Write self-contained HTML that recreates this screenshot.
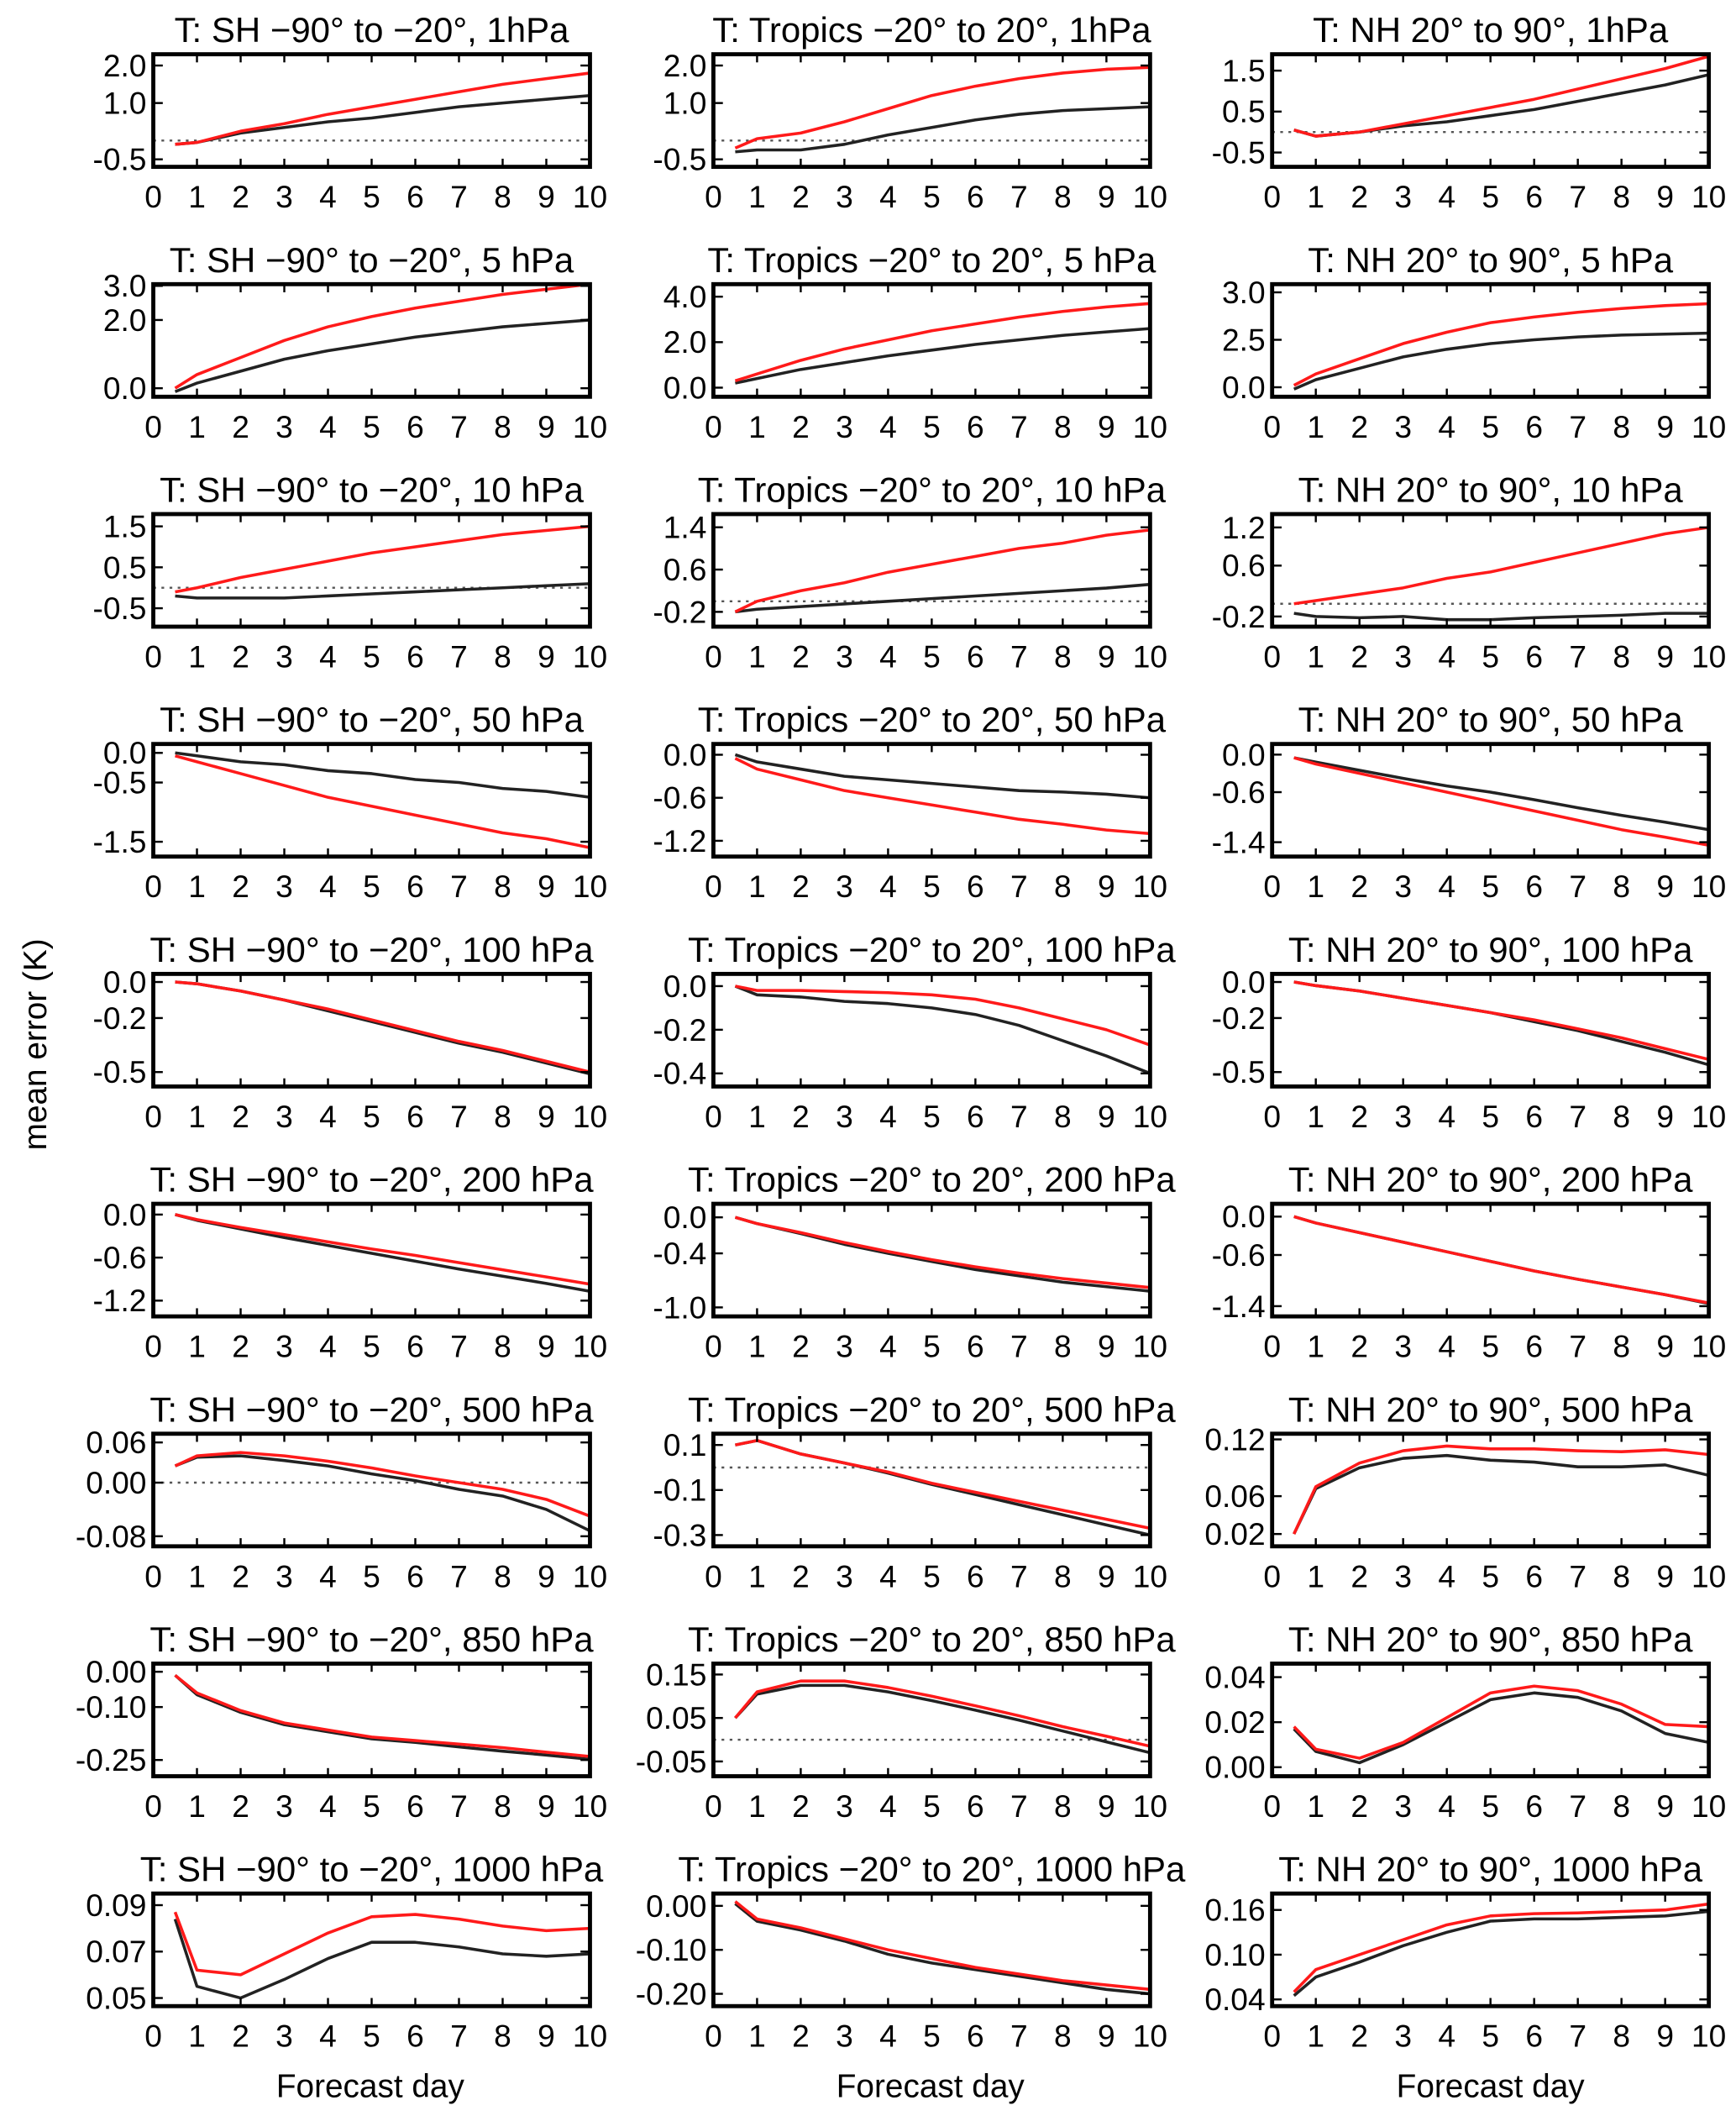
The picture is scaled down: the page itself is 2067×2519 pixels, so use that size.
<!DOCTYPE html>
<html><head><meta charset="utf-8">
<style>
html,body{margin:0;padding:0;background:#fff;}
svg{display:block;font-family:"Liberation Sans",sans-serif;}
</style></head>
<body>
<svg id="chart" width="2067" height="2519" viewBox="0 0 1280 1560" xmlns="http://www.w3.org/2000/svg">
<rect x="0" y="0" width="1280" height="1560" fill="#fff"/>
<text x="0" y="0" transform="translate(34,770) rotate(-90)" text-anchor="middle" font-size="24" fill="#000">mean error (K)</text>
<text x="273" y="1546" text-anchor="middle" font-size="24" fill="#000">Forecast day</text>
<text x="686" y="1546" text-anchor="middle" font-size="24" fill="#000">Forecast day</text>
<text x="1099" y="1546" text-anchor="middle" font-size="24" fill="#000">Forecast day</text>
</svg>
<script>
const days = [0.5,1,2,3,4,5,6,7,8,9,10];
const xTicks = [0,1,2,3,4,5,6,7,8,9,10];
const regions = ["T: SH \u221290\u00b0 to \u221220\u00b0, ", "T: Tropics \u221220\u00b0 to 20\u00b0, ", "T: NH 20\u00b0 to 90\u00b0, "];
const levels = ["1hPa","5 hPa","10 hPa","50 hPa","100 hPa","200 hPa","500 hPa","850 hPa","1000 hPa"];
const yMin = [-0.7,-0.7,-0.85, -0.25,-0.4,-0.5, -0.95,-0.48,-0.36, -1.75,-1.42,-1.63, -0.58,-0.46,-0.58, -1.42,-1.1,-1.56, -0.095,-0.35,0.007, -0.296,-0.084,-0.004, 0.0465,-0.228,0.031];
const yMax = [2.3,2.3,1.9, 3.05,4.55,5.43, 1.8,1.65,1.41, 0.15,0.15,0.17, 0.045,0.056,0.045, 0.15,0.15,0.2, 0.073,0.15,0.126, 0.023,0.175,0.046, 0.095,0.028,0.182];
const tickVals = [[2,1,-0.5],[2,1,-0.5],[1.5,0.5,-0.5],[3,2,0],[4,2,0],[5,2.5,0],[1.5,0.5,-0.5],[1.4,0.6,-0.2],[1.2,0.6,-0.2],[0,-0.5,-1.5],[0,-0.6,-1.2],[0,-0.6,-1.4],[0,-0.2,-0.5],[0,-0.2,-0.4],[0,-0.2,-0.5],[0,-0.6,-1.2],[0,-0.4,-1.0],[0,-0.6,-1.4],[0.06,0,-0.08],[0.1,-0.1,-0.3],[0.12,0.06,0.02],[0,-0.1,-0.25],[0.15,0.05,-0.05],[0.04,0.02,0],[0.09,0.07,0.05],[0,-0.1,-0.2],[0.16,0.1,0.04]];
const tickLabels = [["2.0","1.0","-0.5"],["2.0","1.0","-0.5"],["1.5","0.5","-0.5"],["3.0","2.0","0.0"],["4.0","2.0","0.0"],["3.0","2.5","0.0"],["1.5","0.5","-0.5"],["1.4","0.6","-0.2"],["1.2","0.6","-0.2"],["0.0","-0.5","-1.5"],["0.0","-0.6","-1.2"],["0.0","-0.6","-1.4"],["0.0","-0.2","-0.5"],["0.0","-0.2","-0.4"],["0.0","-0.2","-0.5"],["0.0","-0.6","-1.2"],["0.0","-0.4","-1.0"],["0.0","-0.6","-1.4"],["0.06","0.00","-0.08"],["0.1","-0.1","-0.3"],["0.12","0.06","0.02"],["0.00","-0.10","-0.25"],["0.15","0.05","-0.05"],["0.04","0.02","0.00"],["0.09","0.07","0.05"],["0.00","-0.10","-0.20"],["0.16","0.10","0.04"]];
const zeroLine = [1,1,1, 0,0,0, 1,1,1, 0,0,0, 0,0,0, 0,0,0, 1,1,0, 0,1,0, 0,0,0];
const redSeries = [
[-0.1,-0.05,0.25,0.45,0.7,0.9,1.1,1.3,1.5,1.65,1.8],
[-0.2,0.05,0.2,0.5,0.85,1.2,1.45,1.65,1.8,1.9,1.95],
[0.05,-0.1,0.0,0.2,0.4,0.6,0.8,1.05,1.3,1.55,1.85],
[0.0,0.4,0.9,1.4,1.8,2.1,2.35,2.55,2.75,2.9,3.05],
[0.3,0.6,1.2,1.7,2.1,2.5,2.8,3.1,3.35,3.55,3.7],
[0.1,0.7,1.5,2.3,2.9,3.4,3.7,3.95,4.15,4.3,4.4],
[-0.1,0.0,0.25,0.45,0.65,0.85,1.0,1.15,1.3,1.4,1.5],
[-0.2,0.0,0.2,0.35,0.55,0.7,0.85,1.0,1.1,1.25,1.35],
[0.0,0.05,0.15,0.25,0.4,0.5,0.65,0.8,0.95,1.1,1.2],
[-0.05,-0.15,-0.35,-0.55,-0.75,-0.9,-1.05,-1.2,-1.35,-1.45,-1.6],
[-0.05,-0.2,-0.35,-0.5,-0.6,-0.7,-0.8,-0.9,-0.97,-1.05,-1.1],
[-0.05,-0.15,-0.3,-0.45,-0.6,-0.75,-0.9,-1.05,-1.2,-1.32,-1.45],
[0,-0.01,-0.05,-0.1,-0.15,-0.21,-0.27,-0.33,-0.38,-0.44,-0.5],
[0.0,-0.02,-0.02,-0.025,-0.03,-0.04,-0.06,-0.1,-0.15,-0.2,-0.27],
[0,-0.02,-0.05,-0.09,-0.13,-0.17,-0.21,-0.26,-0.31,-0.37,-0.43],
[0,-0.07,-0.18,-0.28,-0.38,-0.48,-0.57,-0.67,-0.77,-0.87,-0.97],
[0,-0.07,-0.17,-0.28,-0.38,-0.47,-0.55,-0.62,-0.68,-0.73,-0.78],
[0,-0.1,-0.25,-0.4,-0.55,-0.7,-0.85,-0.98,-1.1,-1.22,-1.35],
[0.025,0.04,0.045,0.04,0.032,0.022,0.01,0.0,-0.01,-0.025,-0.05],
[0.1,0.12,0.06,0.02,-0.02,-0.07,-0.11,-0.15,-0.19,-0.23,-0.27],
[0.02,0.07,0.095,0.108,0.113,0.11,0.11,0.108,0.107,0.109,0.104],
[-0.01,-0.06,-0.11,-0.145,-0.165,-0.185,-0.195,-0.205,-0.215,-0.228,-0.24],
[0.05,0.11,0.135,0.135,0.12,0.1,0.078,0.055,0.03,0.008,-0.015],
[0.018,0.008,0.004,0.011,0.022,0.033,0.036,0.034,0.028,0.019,0.018],
[0.087,0.062,0.06,0.069,0.078,0.085,0.086,0.084,0.081,0.079,0.08],
[0.01,-0.03,-0.05,-0.075,-0.1,-0.12,-0.14,-0.155,-0.17,-0.18,-0.19],
[0.05,0.08,0.1,0.12,0.14,0.152,0.155,0.156,0.158,0.16,0.168]];
const blackSeries = [
[-0.1,-0.05,0.2,0.35,0.5,0.6,0.75,0.9,1.0,1.1,1.2],
[-0.3,-0.25,-0.25,-0.1,0.15,0.35,0.55,0.7,0.8,0.85,0.9],
[0.05,-0.1,0.0,0.15,0.25,0.4,0.55,0.75,0.95,1.15,1.4],
[-0.1,0.15,0.5,0.85,1.1,1.3,1.5,1.65,1.8,1.9,2.0],
[0.2,0.4,0.8,1.1,1.4,1.65,1.9,2.1,2.3,2.45,2.6],
[-0.1,0.4,1.0,1.6,2.0,2.3,2.5,2.65,2.75,2.8,2.85],
[-0.2,-0.25,-0.25,-0.25,-0.2,-0.15,-0.1,-0.05,0.0,0.05,0.1],
[-0.2,-0.15,-0.1,-0.05,0.0,0.05,0.1,0.15,0.2,0.25,0.32],
[-0.15,-0.2,-0.22,-0.2,-0.25,-0.25,-0.22,-0.2,-0.18,-0.15,-0.15],
[0.0,-0.05,-0.15,-0.2,-0.3,-0.35,-0.45,-0.5,-0.6,-0.65,-0.75],
[0,-0.1,-0.2,-0.3,-0.35,-0.4,-0.45,-0.5,-0.52,-0.55,-0.6],
[-0.05,-0.12,-0.25,-0.38,-0.5,-0.6,-0.72,-0.85,-0.97,-1.08,-1.2],
[0,-0.01,-0.05,-0.1,-0.16,-0.22,-0.28,-0.34,-0.39,-0.45,-0.51],
[0.0,-0.04,-0.05,-0.07,-0.08,-0.1,-0.13,-0.18,-0.25,-0.32,-0.4],
[0,-0.02,-0.05,-0.09,-0.13,-0.17,-0.22,-0.27,-0.33,-0.39,-0.46],
[0,-0.08,-0.2,-0.32,-0.43,-0.54,-0.65,-0.76,-0.86,-0.96,-1.07],
[0,-0.07,-0.18,-0.3,-0.4,-0.49,-0.58,-0.65,-0.72,-0.77,-0.82],
[0,-0.1,-0.25,-0.4,-0.55,-0.7,-0.85,-0.98,-1.1,-1.22,-1.36],
[0.025,0.038,0.04,0.033,0.025,0.013,0.003,-0.01,-0.02,-0.04,-0.072],
[0.1,0.12,0.06,0.02,-0.025,-0.075,-0.12,-0.165,-0.21,-0.255,-0.3],
[0.02,0.068,0.09,0.1,0.103,0.098,0.096,0.091,0.091,0.093,0.082],
[-0.01,-0.065,-0.115,-0.15,-0.17,-0.19,-0.2,-0.213,-0.225,-0.236,-0.248],
[0.05,0.105,0.125,0.125,0.11,0.09,0.068,0.045,0.02,-0.005,-0.03],
[0.017,0.007,0.002,0.01,0.02,0.03,0.033,0.031,0.025,0.015,0.011],
[0.084,0.055,0.05,0.058,0.067,0.074,0.074,0.072,0.069,0.068,0.069],
[0.005,-0.035,-0.055,-0.08,-0.11,-0.13,-0.145,-0.16,-0.175,-0.19,-0.2],
[0.045,0.07,0.09,0.112,0.13,0.145,0.148,0.148,0.15,0.152,0.158]];

const NS = "http://www.w3.org/2000/svg";
const svg = document.getElementById("chart");
const colX = [113,526,938], W = 322, H = 83;
function mk(tag, attrs, parent){ const e=document.createElementNS(NS,tag); for(const k in attrs) e.setAttribute(k,attrs[k]); parent.appendChild(e); return e; }

for(let r=0;r<9;r++){
  for(let c=0;c<3;c++){
    const i=r*3+c;
    const x0=colX[c], y0=40+r*169.5;
    const g=mk("g",{},svg);
    
    
    const xs=v=>x0+v/10*W;
    const ys=v=>y0+H-(v-yMin[i])/(yMax[i]-yMin[i])*H;
    const t=mk("text",{x:x0+W/2,y:y0-9,"text-anchor":"middle","font-size":"26",fill:"#000"},g);
    t.textContent=regions[c]+levels[r];
    
    
    if(zeroLine[i]){
      const z=mk("line",{x1:x0,x2:x0+W,y1:ys(0),y2:ys(0),stroke:"#555","stroke-width":"1.5","stroke-dasharray":"2,4"},g);
      
      
    }
    const mkLine=(vals,col,name)=>{
      const p=mk("polyline",{points:vals.map((v,k)=>xs(days[k])+","+ys(v)).join(" "),fill:"none",stroke:col,"stroke-width":"2.2","stroke-linejoin":"round"},g);
      
      
    };
    mkLine(blackSeries[i],"#222","series-black");
    mkLine(redSeries[i],"#ff1a1a","series-red");
    const fr=mk("rect",{x:x0,y:y0,width:W,height:H,fill:"none",stroke:"#000","stroke-width":"3"},g);
    
    
    xTicks.forEach(v=>{
      mk("line",{x1:xs(v),x2:xs(v),y1:y0+H,y2:y0+H-6,stroke:"#000","stroke-width":"1.5"},g);
      mk("line",{x1:xs(v),x2:xs(v),y1:y0,y2:y0+6,stroke:"#000","stroke-width":"1.5"},g);
      const tl=mk("text",{x:xs(v),y:y0+H+30,"text-anchor":"middle","font-size":"23",fill:"#000"},g);
      tl.textContent=String(v);
      
      
    });
    tickVals[i].forEach((v,k)=>{
      mk("line",{x1:x0,x2:x0+7,y1:ys(v),y2:ys(v),stroke:"#000","stroke-width":"1.5"},g);
      mk("line",{x1:x0+W,x2:x0+W-7,y1:ys(v),y2:ys(v),stroke:"#000","stroke-width":"1.5"},g);
      const tl=mk("text",{x:x0-5,y:ys(v)+8,"text-anchor":"end","font-size":"23",fill:"#000"},g);
      tl.textContent=tickLabels[i][k];
      
      
    });
  }
}
</script>
</body></html>
